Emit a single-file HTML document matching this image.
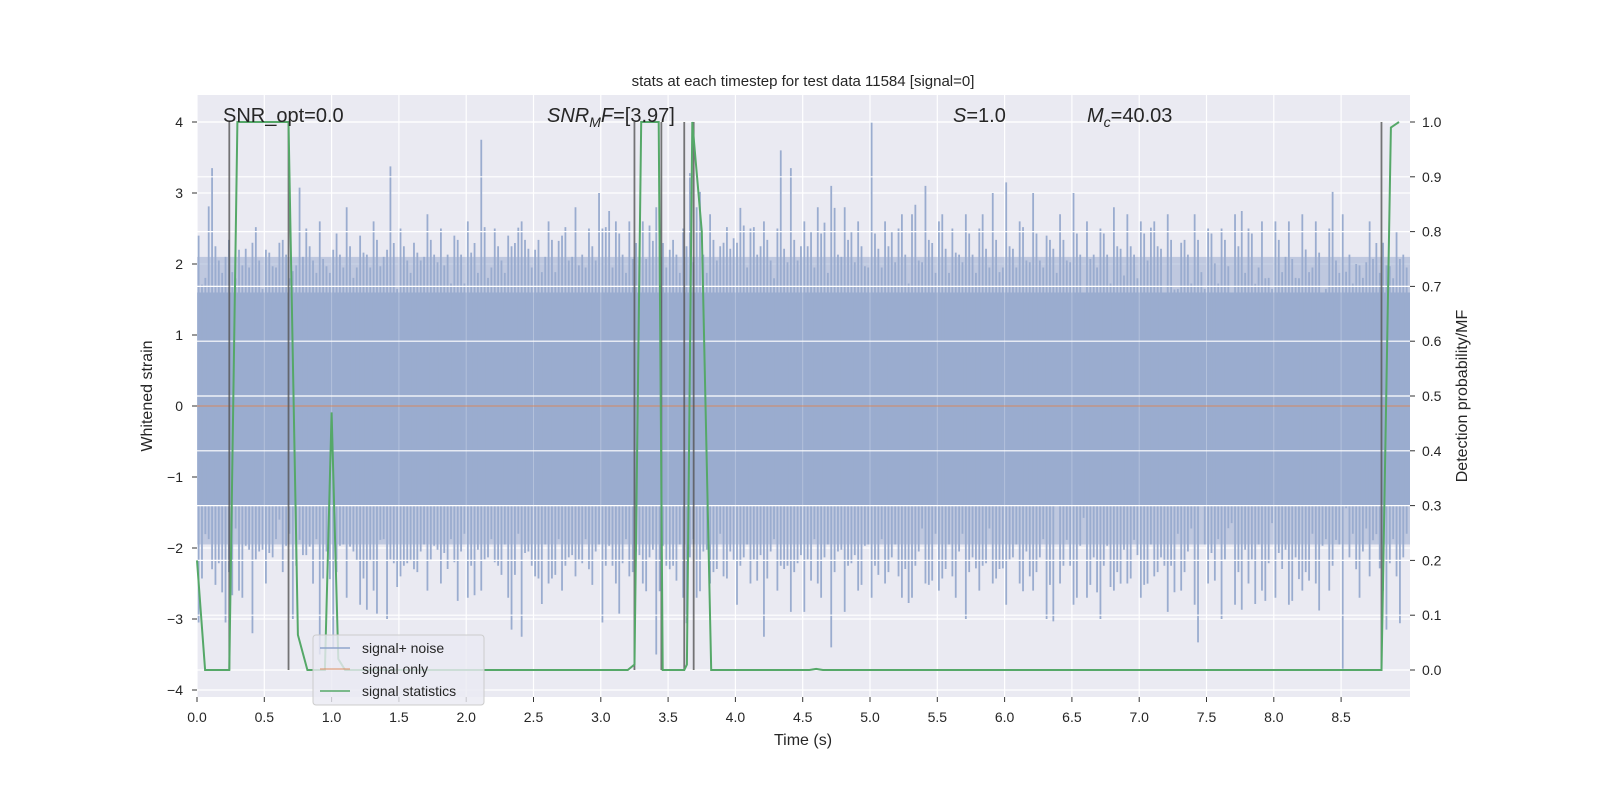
<!DOCTYPE html>
<html><head><meta charset="utf-8"><style>
html,body{margin:0;padding:0;background:#fff;}
svg{display:block;font-family:"Liberation Sans","DejaVu Sans",sans-serif;}
</style></head><body>
<svg id="chart" width="1600" height="800" viewBox="0 0 1600 800">
<rect x="197" y="95" width="1213" height="602" fill="#eaeaf2"/>
<g id="grid"></g>
<g id="noise"></g>
<g id="grid2"></g>
<g id="marks"></g>
<g id="axes"></g>
<text x="803" y="86" text-anchor="middle" font-size="15" fill="#262626">stats at each timestep for test data 11584 [signal=0]</text>
<text x="803" y="745" text-anchor="middle" font-size="16" fill="#262626">Time (s)</text>
<text transform="translate(152,396) rotate(-90)" text-anchor="middle" font-size="16" fill="#262626">Whitened strain</text>
<text transform="translate(1467,396) rotate(-90)" text-anchor="middle" font-size="16" fill="#262626">Detection probability/MF</text>
<g font-size="20" fill="#262626">
<text x="223" y="122">SNR_opt=0.0</text>
<text x="547" y="122"><tspan font-style="italic">SNR</tspan><tspan font-style="italic" font-size="14" dy="5">M</tspan><tspan font-style="italic" dy="-5">F</tspan>=[3.97]</text>
<text x="953" y="122"><tspan font-style="italic">S</tspan>=1.0</text>
<text x="1087" y="122"><tspan font-style="italic">M</tspan><tspan font-style="italic" font-size="14" dy="5">c</tspan><tspan dy="-5">=40.03</tspan></text>
</g>
<g>
<rect x="313" y="635" width="171" height="70" rx="3" fill="#eaeaf2" fill-opacity="0.8" stroke="#cccccc"/>
<line x1="320" y1="648" x2="350" y2="648" stroke="#8fa4cc" stroke-width="1.6"/>
<text x="362" y="653" font-size="14" fill="#262626">signal+ noise</text>
<line x1="320" y1="669" x2="350" y2="669" stroke="#dd8452" stroke-opacity="0.6" stroke-width="1.6"/>
<text x="362" y="674" font-size="14" fill="#262626">signal only</text>
<line x1="320" y1="691" x2="350" y2="691" stroke="#55a868" stroke-width="1.6"/>
<text x="362" y="696" font-size="14" fill="#262626">signal statistics</text>
</g>
</svg>
<script>
const noiseUpper = [2.4,3.35,2.1,2.2,2.3,2.2,2.3,1.9,2.5,2.6, 2.2,2.8,2.4,2.6,2.2,2.5,2.3,2.7,2.5,2.4, 2.6,3.75,2.5,2.4,2.6,2.2,2.6,2.4,2.8,2.5, 2.5,2.6,2.6,2.6,2.8,2.2,2.5,2.8,2.7,2.3, 2.3,2.5,2.6,2.5,3.35,2.6,2.8,3.1,2.8,2.6, 4.0,2.6,2.5,2.7,3.1,2.6,2.5,2.7,2.5,3.0, 3.15,2.6,3.0,2.4,2.7,3.0,2.6,2.5,2.8,2.7, 2.6,2.6,2.7,2.3,2.7,2.5,2.5,2.7,2.5,2.6, 2.6,2.6,2.7,2.6,2.5,2.7,2.0,2.6,2.3,2.45];
const noiseLower = [-3.05,-2.3,-3.05,-2.6,-3.2,-2.5,-1.6,-3.0,-2.1,-3.5, -3.4,-2.7,-2.8,-2.6,-3.0,-2.4,-2.3,-2.6,-2.5,-2.2, -2.7,-2.6,-2.2,-2.7,-3.25,-2.4,-2.5,-2.6,-2.4,-2.3, -3.05,-2.5,-2.4,-2.5,-3.5,-2.3,-2.7,-2.7,-2.5,-2.4, -2.8,-2.5,-3.25,-2.6,-2.9,-2.9,-2.5,-3.4,-2.9,-2.6, -2.7,-2.5,-2.4,-2.7,-2.5,-2.6,-2.4,-3.0,-2.6,-2.5, -2.8,-2.5,-2.6,-3.0,-2.5,-2.8,-2.7,-3.0,-2.6,-2.5, -2.7,-2.4,-2.9,-2.6,-2.8,-2.5,-3.0,-2.8,-2.5,-2.6, -2.7,-2.8,-2.6,-2.5,-2.6,-3.7,-2.3,-2.4,-2.6,-2.4];
const statTimes = [0,0.06,0.24,0.3,0.68,0.75,0.82,0.95,1.0,1.05,1.1,3.2,3.25,3.3,3.43,3.46,3.62,3.64,3.68,3.75,3.82,4.55,4.6,4.65,8.8,8.87,8.93];
const statValues = [0.2,0,0,1,1,0.064,0,0,0.47,0.02,0,0,0.01,1,1,0,0,0.01,1,0.8,0,0,0.002,0,0,0.99,1];
const markerTimes = [0.24,0.68,3.25,3.45,3.62,3.69,8.8];
const xTicks = [0,0.5,1,1.5,2,2.5,3,3.5,4,4.5,5,5.5,6,6.5,7,7.5,8,8.5];
const yTicksLeft = [-4,-3,-2,-1,0,1,2,3,4];
const yTicksRight = [0,0.1,0.2,0.3,0.4,0.5,0.6,0.7,0.8,0.9,1.0];

const NS='http://www.w3.org/2000/svg';
const X0=197,X1=1410,Y0=95,Y1=697;
const xs=t=>197+t*134.6;
const yl=v=>406-v*71;
const yr=p=>670-p*548;
function mk(tag,attrs,parent){const e=document.createElementNS(NS,tag);for(const k in attrs)e.setAttribute(k,attrs[k]);parent.appendChild(e);return e;}
const grid=document.getElementById('grid'),grid2=document.getElementById('grid2'),noise=document.getElementById('noise'),marks=document.getElementById('marks'),axes=document.getElementById('axes');
xTicks.forEach(t=>{const l=mk('line',{x1:xs(t),x2:xs(t),y1:Y0,y2:Y1,stroke:'#fff','stroke-width':1.2},grid);

const l2=mk('line',{x1:xs(t),x2:xs(t),y1:Y0,y2:Y1,stroke:'#fff','stroke-opacity':0.25,'stroke-width':1},grid2);

mk('line',{x1:xs(t),x2:xs(t),y1:Y1,y2:Y1+5,stroke:'#333'},axes);
const tx=mk('text',{x:xs(t),y:722,'text-anchor':'middle','font-size':14,fill:'#262626'},axes);tx.textContent=t.toFixed(1);
});
yTicksLeft.forEach(v=>{const l=mk('line',{x1:X0,x2:X1,y1:yl(v),y2:yl(v),stroke:'#fff','stroke-width':1.2},grid);

mk('line',{x1:X0-5,x2:X0,y1:yl(v),y2:yl(v),stroke:'#333'},axes);
const tx=mk('text',{x:X0-14,y:yl(v)+5,'text-anchor':'end','font-size':14,fill:'#262626'},axes);tx.textContent=v<0?'\u2212'+(-v):String(v);
});
yTicksRight.forEach(p=>{const l=mk('line',{x1:X0,x2:X1,y1:yr(p),y2:yr(p),stroke:'#fff','stroke-width':1.2},grid2);

mk('line',{x1:X1,x2:X1+5,y1:yr(p),y2:yr(p),stroke:'#333'},axes);
const tx=mk('text',{x:X1+12,y:yr(p)+5,'font-size':14,fill:'#262626'},axes);tx.textContent=p.toFixed(1);
});
const n=noiseUpper.length;
const core=mk('rect',{x:X0,y:yl(1.6),width:X1-X0,height:yl(-1.4)-yl(1.6),fill:'#9aaccf'},noise);

const fz1=mk('rect',{x:X0,y:yl(2.1),width:X1-X0,height:yl(1.6)-yl(2.1),fill:'#9aaccf','fill-opacity':0.55},noise);

const fz2=mk('rect',{x:X0,y:yl(-1.4),width:X1-X0,height:yl(-1.95)-yl(-1.4),fill:'#9aaccf','fill-opacity':0.55},noise);

const scales=[1,0.9,0.82,0.75];
for(let i=0;i<n;i++){
for(let k=0;k<4;k++){const t=i*0.1+0.012+k*0.025;
const u=noiseUpper[(i+k*7)%n]*scales[k], d=noiseLower[(i+k*11)%n]*scales[k];
const uu=k===0?noiseUpper[i]:u, dd=k===0?noiseLower[i]:d;
const s=mk('line',{x1:xs(t),x2:xs(t),y1:yl(uu),y2:yl(dd),stroke:'#9aaccf','stroke-width':1.8},noise);
}}
const so=mk('line',{x1:X0,x2:X1,y1:yl(0),y2:yl(0),stroke:'#dd8452','stroke-opacity':0.7,'stroke-width':1.3},marks);

markerTimes.forEach(t=>{const l=mk('line',{x1:xs(t),x2:xs(t),y1:yr(1),y2:yr(0),stroke:'#555','stroke-opacity':0.8,'stroke-width':1.8},marks);
});
const pts=statTimes.map((t,i)=>xs(t).toFixed(1)+','+yr(statValues[i]).toFixed(1)).join(' ');
const g=mk('polyline',{points:pts,fill:'none',stroke:'#55a868','stroke-width':2},marks);

</script>
</body></html>
